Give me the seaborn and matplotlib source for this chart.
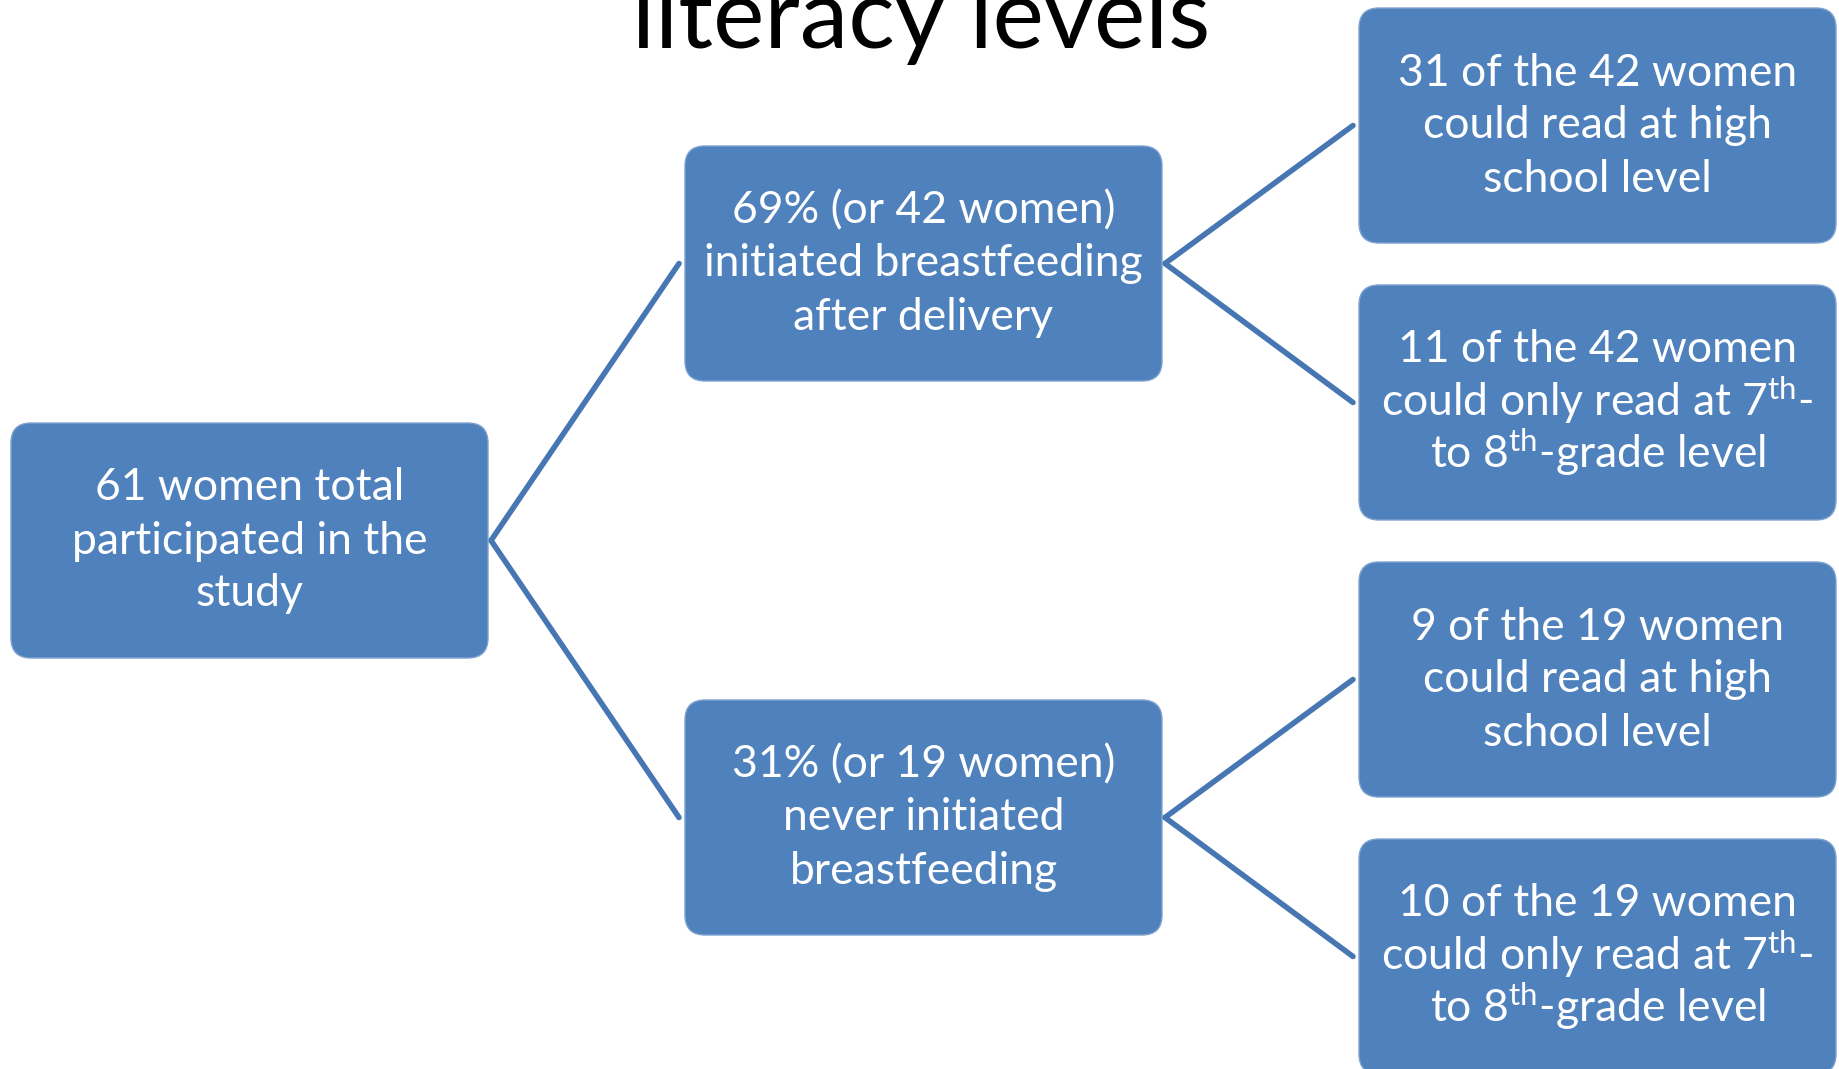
import pandas as pd
import seaborn as sns
import matplotlib.pyplot as plt
from matplotlib.patches import FancyBboxPatch

sns.set_theme(style="white")
plt.rcParams['font.family'] = ['Lato', 'DejaVu Sans']
plt.rcParams['mathtext.fontset'] = 'custom'
plt.rcParams['mathtext.rm'] = 'Lato'
plt.rcParams['mathtext.it'] = 'Lato:italic'

# node texts, one list of lines per box
labels = [
    ["61 women total", "participated in the", "study"],
    ["69% (or 42 women)", "initiated breastfeeding", "after delivery"],
    ["31% (or 19 women)", "never initiated", "breastfeeding"],
    ["31 of the 42 women", "could read at high", "school level"],
    ["11 of the 42 women", "could only read at 7$^{\\mathrm{th}}$-", "to 8$^{\\mathrm{th}}$-grade level"],
    ["9 of the 19 women", "could read at high", "school level"],
    ["10 of the 19 women", "could only read at 7$^{\\mathrm{th}}$-", "to 8$^{\\mathrm{th}}$-grade level"],
]
parents = [None, 0, 0, 1, 1, 2, 2]

# layout in pixels (left, top) of each box
box_left = [11, 685, 685, 1359, 1359, 1359, 1359]
box_top = [423, 146, 700, 8, 285, 562, 839]
box_w, box_h = 477, 235

blue = '#4F81BD'
line_blue = '#4777B3'

fig = plt.figure(figsize=(18.39, 10.69), dpi=100)
ax = fig.add_axes([0, 0, 1, 1])

# connector segments parent -> child
rows = []
for i, p in enumerate(parents):
    if p is None:
        continue
    x0 = box_left[p] + box_w + 3
    y0 = box_top[p] + box_h / 2
    x1 = box_left[i] - 6
    y1 = box_top[i] + box_h / 2
    rows.append({'x': x0, 'y': y0, 'seg': i})
    rows.append({'x': x1, 'y': y1, 'seg': i})
edges = pd.DataFrame(rows)
sns.lineplot(data=edges, x='x', y='y', units='seg', estimator=None, sort=False,
             color=line_blue, linewidth=4, ax=ax, legend=False)

line_gap = 53
for i, lines in enumerate(labels):
    box = FancyBboxPatch((box_left[i] + 20, box_top[i] + 20), box_w - 40, box_h - 40,
                         boxstyle="round,pad=20", facecolor=blue,
                         edgecolor='#7FA2CF', linewidth=1, zorder=3)
    ax.add_patch(box)
    cx = box_left[i] + box_w / 2
    cy = box_top[i] + box_h / 2 + 13
    for k, line in enumerate(lines):
        ax.text(cx, cy + (k - 1) * line_gap, line, ha='center', va='baseline',
                color='white', fontsize=32, zorder=4)

ax.text(921, 48, "literacy levels", ha='center', va='baseline',
        fontsize=70, color='black')

ax.set_xlim(0, 1839)
ax.set_ylim(1069, 0)
ax.set_xlabel('')
ax.set_ylabel('')
ax.axis('off')

fig.savefig('out.png', dpi=100)
